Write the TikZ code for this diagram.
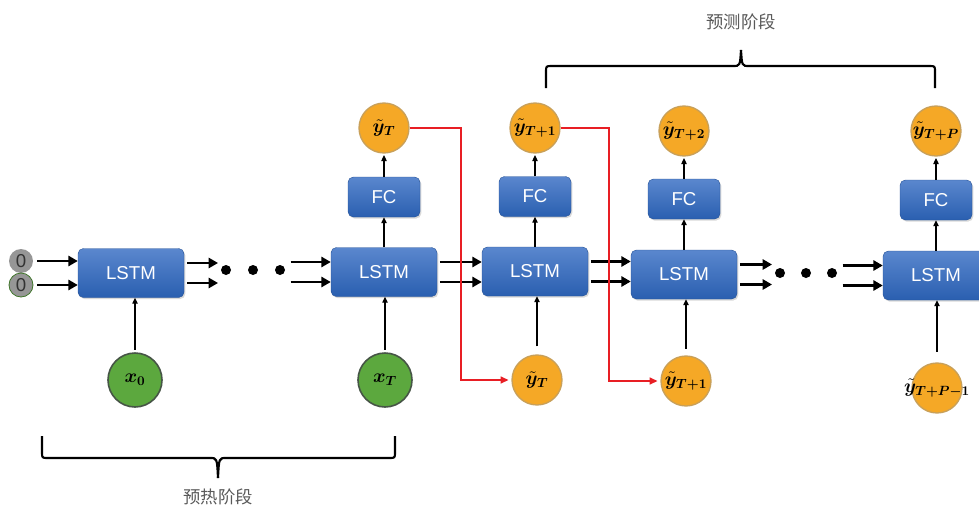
\documentclass[tikz,border=0pt]{standalone}
\usepackage{fontspec}
\usepackage{amsmath,bm}
\setmainfont{Liberation Sans}
\newfontfamily\cjk{Noto Sans CJK SC}
\usetikzlibrary{arrows.meta,calc,shadows}
\definecolor{boxtop}{RGB}{90,135,206}
\definecolor{boxbot}{RGB}{42,95,176}
\definecolor{orng}{RGB}{245,168,38}
\definecolor{orngb}{RGB}{200,160,90}
\definecolor{grn}{RGB}{92,168,62}
\definecolor{grnb}{RGB}{70,85,70}
\definecolor{zgray}{RGB}{150,150,150}
\definecolor{redl}{RGB}{232,30,36}
\newcommand{\ytl}[1]{\makebox[0pt]{$\boldsymbol{\tilde{y}_{#1}}$}}
\begin{document}
\begin{tikzpicture}[x=0.75pt,y=-0.75pt,
  lstm/.style={rounded corners=4pt, minimum width=79.5pt, minimum height=36.75pt,
    top color=boxtop, bottom color=boxbot, draw=boxbot!85!black, line width=0.3pt,
    text=white, font=\fontsize{14}{14}\selectfont, inner sep=0pt,
    drop shadow={shadow xshift=1pt,shadow yshift=-1.2pt,opacity=0.3}},
  fcbox/.style={lstm, minimum width=54pt, minimum height=30pt},
  ocirc/.style={circle, fill=orng, draw=orngb, line width=1pt, minimum size=37.5pt,
    inner sep=0pt, font=\fontsize{14}{14}\selectfont},
  gcirc/.style={circle, fill=grn, draw=grnb, line width=1.2pt, minimum size=40.5pt,
    inner sep=0pt, font=\fontsize{14}{14}\selectfont},
  zcirc/.style={circle, fill=zgray, minimum size=18pt, inner sep=0pt,
    font=\fontsize{14}{14}\selectfont, text=black!80},
  blackdot/.style={circle, fill=black, minimum size=7.5pt, inner sep=0pt},
  dar/.style={-{Triangle[length=7pt,width=7.5pt]}, line width=1.9pt},
  var/.style={-{Triangle[length=4.5pt,width=4pt]}, line width=0.9pt},
  redar/.style={-{Triangle[length=6pt,width=5pt]}, draw=redl, line width=1.6pt},
  bracel/.style={line width=1.6pt},
  lab/.style={font=\cjk\fontsize{13}{13}\selectfont, text=black!65}]
\useasboundingbox (0,0) rectangle (979,507);
\clip (0,0) rectangle (979,507);

% nodes
\node[zcirc] (z1) at (21,261) {0};
\node[zcirc, draw=grn!70!black, line width=0.6pt] (z2) at (21,285) {0};
\node[lstm] (L1) at (131,273) {LSTM};
\node[gcirc] (x0) at (135,380) {$\boldsymbol{x_0}$};
\node[blackdot] (d1) at (226,270) {};
\node[blackdot] (d2) at (253,270) {};
\node[blackdot] (d3) at (280,270) {};

\node[lstm] (L2) at (384,272) {LSTM};
\node[fcbox] (F1) at (384,197) {FC};
\node[ocirc] (o1) at (384,128) {\ytl{T}};
\node[gcirc] (xT) at (385,380) {$\boldsymbol{x_T}$};

\node[lstm] (L3) at (535,271.5) {LSTM};
\node[fcbox] (F2) at (535,196.5) {FC};
\node[ocirc] (o2) at (535,128) {\ytl{T+1}};
\node[ocirc] (b1) at (537,380) {\ytl{T}};

\node[lstm] (L4) at (684,274.5) {LSTM};
\node[fcbox] (F3) at (684,199) {FC};
\node[ocirc] (o3) at (684,131) {\ytl{T+2}};
\node[ocirc] (b2) at (686,381) {\ytl{T+1}};
\node[blackdot] (d4) at (780,273) {};
\node[blackdot] (d5) at (806,273) {};
\node[blackdot] (d6) at (832,273) {};

\node[lstm] (L5) at (936,275.5) {LSTM};
\node[fcbox] (F4) at (936,200) {FC};
\node[ocirc] (o4) at (936,131) {\ytl{T+P}};
\node[ocirc] (b3) at (937,388) {\ytl{T+P-1}};

% zero inputs
\draw[dar, shorten <=3pt] (z1.east) -- (z1.east -| L1.west);
\draw[dar, shorten <=3pt] (z2.east) -- (z2.east -| L1.west);

% horizontal double arrows
\foreach \s in {7.5pt,-7.5pt}{
  \path ([yshift=\s]L1.east) coordinate (t1);
  \draw[dar, shorten <=2pt, shorten >=2pt] (t1) -- (t1 -| d1.west);
  \path ([yshift=\s]L2.west) coordinate (t2);
  \draw[dar, shorten <=4pt] (t2 -| d3.east) -- (t2);
  \path ([yshift=\s]L4.east) coordinate (t4);
  \draw[dar, shorten <=2pt, shorten >=2pt] (t4) -- (t4 -| d4.west);
  \path ([yshift=\s]L5.west) coordinate (t5);
  \draw[dar, shorten <=4pt] (t5 -| d6.east) -- (t5);
}
\foreach \a/\b in {L2/L3,L3/L4}{
  \foreach \s in {7.5pt,-7.5pt}{
    \path ([yshift=\s]\a.east) coordinate (tt);
    \draw[dar, shorten <=2pt] (tt) -- (tt -| \b.west);
  }
}

% vertical arrows
\draw[var, shorten <=2pt] (x0.north) -- (x0.north |- L1.south);
\draw[var, shorten <=2pt] (xT.north) -- (xT.north |- L2.south);
\draw[var, shorten <=6pt] (b1.north) -- (b1.north |- L3.south);
\draw[var, shorten <=5pt] (b2.north) -- (b2.north |- L4.south);
\draw[var, shorten <=8pt] (b3.north) -- (b3.north |- L5.south);
\foreach \l/\f/\o in {L2/F1/o1,L3/F2/o2,L4/F3/o3,L5/F4/o4}{
  \draw[var] (\l.north) -- (\f.south);
  \draw[var, shorten >=1pt] (\f.north) -- (\o.south);
}

% red feedback arrows
\draw[redar, shorten >=2pt] (o1.east) -- ++(51,0) |- (b1.west);
\draw[redar, shorten >=2pt] (o2.east) -- ++(48,0) |- (b2.west);

% braces
\draw[bracel] (546,88) -- (546,72) .. controls (546,66) .. (552,66) -- (733,66)
  .. controls (740,66) .. (741,50);
\draw[bracel] (741,50) .. controls (742,66) .. (749,66) -- (929,66)
  .. controls (935,66) .. (935,72) -- (935,88);
\draw[bracel] (42,436) -- (42,452) .. controls (42,458) .. (48,458) -- (210,458)
  .. controls (217,458) .. (218,478);
\draw[bracel] (218,478) .. controls (219,458) .. (226,458) -- (389,458)
  .. controls (395,458) .. (395,452) -- (395,436);

% labels
\node[lab] (pl) at (741,22) {预测阶段};
\node[lab] (wl) at (218,497) {预热阶段};
\end{tikzpicture}
\end{document}
